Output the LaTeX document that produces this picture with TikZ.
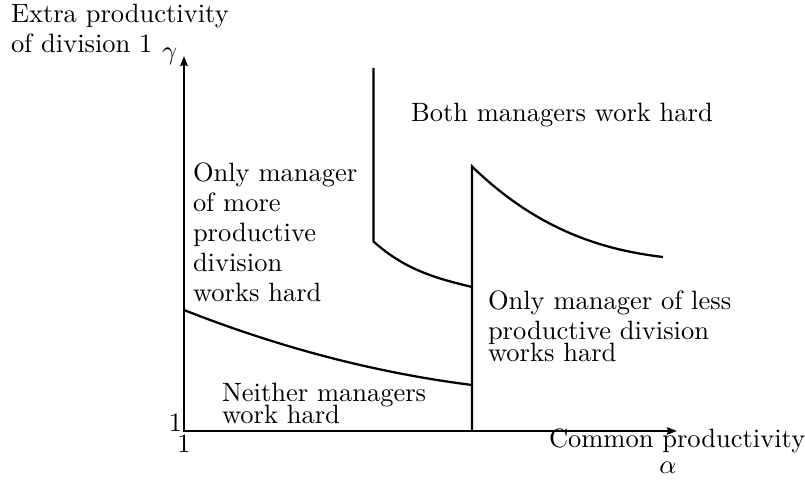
\documentclass[tikz,border=0pt]{standalone}
\usetikzlibrary{arrows.meta}
\begin{document}
\begin{tikzpicture}[x=0.3774pt,y=-0.3774pt,
  thin line/.style={line width=0.85pt},
  axes/.style={line width=0.85pt,{Stealth[length=3.8pt,width=2.8pt,inset=0.5pt]}-{Stealth[length=3.8pt,width=2.8pt,inset=0.5pt]}},
  lbl/.style={anchor=base west,inner sep=0pt,outer sep=0pt},
  lblc/.style={anchor=base,inner sep=0pt,outer sep=0pt},
  lble/.style={anchor=base east,inner sep=0pt,outer sep=0pt}]
\useasboundingbox (0,0) rectangle (805,480);
% axes
\coordinate (ytop) at (184,56);
\coordinate (O) at (184,431);
\coordinate (xend) at (677,431);
\draw[axes] (ytop) -- (O) -- (xend);
% boundary: both vs only-more-productive
\coordinate (a1) at (373.5,68);
\coordinate (a2) at (373.5,241.5);
\coordinate (a3) at (472,287);
\draw[thin line] (a1) -- (a2) .. controls (406.3,271) and (439.2,279) .. (a3);
% boundary: vertical at alpha threshold and upper curve
\coordinate (b1) at (472,431);
\coordinate (b2) at (472,166.5);
\coordinate (b3) at (663,257);
\draw[thin line] (b1) -- (b2) .. controls (535.6,228.1) and (599.1,249.5) .. (b3);
% lower curve
\coordinate (l1) at (184,310);
\coordinate (l2) at (472,385);
\draw[thin line] (l1) .. controls (279.7,347.7) and (375.3,372.7) .. (l2);
% axis labels
\node[lbl] (ylab1) at (11,22.5) {Extra productivity};
\node[lbl] (ylab2) at (11,53) {of division 1};
\node[lbl] (gam) at (162,60) {$\gamma$};
\node[lble] (one1) at (182,431.5) {1};
\node[lblc] (one2) at (184,453) {1};
\node[lbl] (xlab) at (549,448) {Common productivity};
\node[lblc] (alp) at (668,474) {$\alpha$};
% region labels
\node[lbl] (both) at (411,121.7) {Both managers work hard};
\node[lbl] (om1) at (193,181.7) {Only manager};
\node[lbl] (om2) at (193,211.7) {of more};
\node[lbl] (om3) at (193,241.7) {productive};
\node[lbl] (om4) at (193,271.7) {division};
\node[lbl] (om5) at (193,301.7) {works hard};
\node[lbl] (ol1) at (488,309.3) {Only manager of less};
\node[lbl] (ol2) at (488,340) {productive division};
\node[lbl] (ol3) at (488,361.7) {works hard};
\node[lbl] (ne1) at (222,401.7) {Neither managers};
\node[lbl] (ne2) at (222,423.3) {work hard};
\end{tikzpicture}
\end{document}
